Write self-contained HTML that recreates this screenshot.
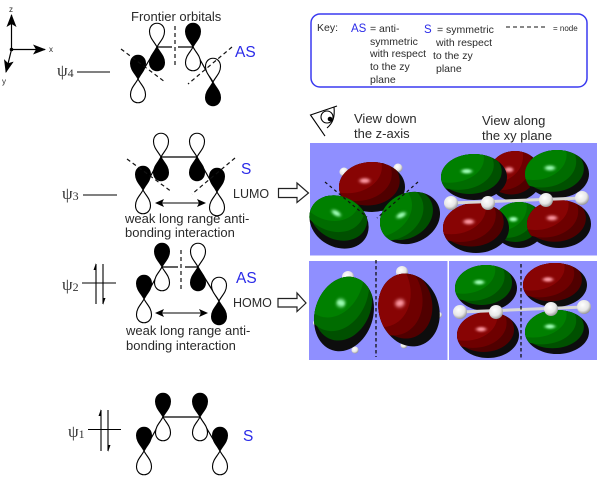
<!DOCTYPE html>
<html>
<head>
<meta charset="utf-8">
<style>
html,body{margin:0;padding:0;background:#fff}
svg{display:block;filter:blur(0.35px)}
text{font-family:"Liberation Sans",sans-serif;fill:#2a2a2a}
.p{font-family:"Liberation Serif",serif;font-size:17px;fill:#333}
.b{fill:#2a2ae8}
</style>
</head>
<body>
<svg width="600" height="479" viewBox="0 0 600 479" xmlns="http://www.w3.org/2000/svg">
<defs>
<path id="l" d="M0,0C-2.500,-5 -7.500,-9 -7.500,-15.500C-7.500,-26.500 7.500,-26.500 7.500,-15.500C7.500,-9 2.500,-5 0,0Z"/>
<g id="o1">
<use href="#l" fill="#000" stroke="#000" stroke-width="1"/>
<use href="#l" transform="scale(1,-1)" fill="#fff" stroke="#000" stroke-width="1.1"/>
</g>
<g id="o2">
<use href="#l" fill="#fff" stroke="#000" stroke-width="1.1"/>
<use href="#l" transform="scale(1,-1)" fill="#000" stroke="#000" stroke-width="1"/>
</g>
<clipPath id="u"><circle r="1"/></clipPath>
<filter id="hb" x="-100%" y="-100%" width="300%" height="300%"><feGaussianBlur stdDeviation="0.05"/></filter>
<g id="gr">
<circle r="1" fill="#0d0d0d"/>
<g clip-path="url(#u)">
<circle cx="-.14" cy="-.24" r=".98" fill="#005000"/>
<circle cx="-.48" cy="-.52" r="1.08" fill="#006c00"/>
<circle cx="-.75" cy="-.8" r="1.05" fill="#008000"/>
<ellipse cx="-.22" cy="-.25" rx=".16" ry=".1" fill="#a0ffb8" filter="url(#hb)"/>
</g>
</g>
<g id="rd">
<circle r="1" fill="#0d0d0d"/>
<g clip-path="url(#u)">
<circle cx="-.14" cy="-.24" r=".98" fill="#500000"/>
<circle cx="-.48" cy="-.52" r="1.08" fill="#6e0000"/>
<circle cx="-.75" cy="-.8" r="1.05" fill="#880404"/>
<ellipse cx="-.22" cy="-.25" rx=".16" ry=".1" fill="#ff9aa4" filter="url(#hb)"/>
</g>
</g>
<radialGradient id="at" cx=".4" cy=".35" r=".7"><stop offset="0" stop-color="#fff"/><stop offset=".6" stop-color="#e6e6e6"/><stop offset="1" stop-color="#8a8a8a"/></radialGradient>
<marker id="ah" markerWidth="9" markerHeight="8" refX="8" refY="4" orient="auto-start-reverse" markerUnits="userSpaceOnUse"><path d="M0,0L9,4L0,8L2,4Z" fill="#000"/></marker>
<marker id="ax" markerWidth="13" markerHeight="10" refX="12" refY="5" orient="auto-start-reverse" markerUnits="userSpaceOnUse"><path d="M0,0L13,5L0,10L3,5Z" fill="#000"/></marker>
</defs>

<!-- axes -->
<g stroke="#000" stroke-width="1.2" fill="none">
<line x1="11.5" y1="49.5" x2="11.5" y2="15" marker-end="url(#ax)"/>
<line x1="11.5" y1="49.5" x2="45" y2="49.5" marker-end="url(#ax)"/>
<line x1="11.5" y1="49.5" x2="6" y2="72" marker-end="url(#ax)"/>
</g>
<circle cx="11.5" cy="49.5" r="1.8" fill="#000"/>
<text x="9" y="12" font-size="8">z</text>
<text x="49" y="52" font-size="8">x</text>
<text x="2" y="84" font-size="8">y</text>

<text x="131" y="21" font-size="13">Frontier orbitals</text>

<!-- psi4 -->
<text x="57" y="76" class="p">ψ<tspan font-size="12" dy="1">4</tspan></text>
<line x1="77" y1="72" x2="110" y2="72" stroke="#000" stroke-width="1.1"/>
<path d="M138,79L157,47L172,47M178,47L193,47L213,83" fill="none" stroke="#000" stroke-width="1.2"/>
<use href="#o1" x="138" y="79"/>
<use href="#o2" x="157" y="47"/>
<use href="#o1" x="193" y="47"/>
<use href="#o2" x="213" y="82"/>
<g stroke="#111" stroke-width="1.2" stroke-dasharray="4 3" fill="none">
<line x1="175" y1="26" x2="175" y2="67"/>
<line x1="121" y1="49" x2="165" y2="82"/>
<line x1="232" y1="47" x2="188" y2="84"/>
</g>
<text x="235" y="57" font-size="15.5" class="b">AS</text>

<!-- psi3 -->
<text x="62" y="199" class="p">ψ<tspan font-size="12" dy="1">3</tspan></text>
<line x1="83" y1="195" x2="117" y2="195" stroke="#000" stroke-width="1.1"/>
<path d="M143,190L161,157L197,157L217,192" fill="none" stroke="#000" stroke-width="1.2"/>
<use href="#o1" x="143" y="190"/>
<use href="#o2" x="161" y="157"/>
<use href="#o2" x="197" y="157"/>
<use href="#o1" x="217" y="192"/>
<g stroke="#111" stroke-width="1.2" stroke-dasharray="4 3" fill="none">
<line x1="127" y1="159" x2="172" y2="192"/>
<line x1="235" y1="158" x2="192" y2="194"/>
</g>
<text x="241" y="174" font-size="15.5" class="b">S</text>
<text x="233" y="198" font-size="12.5">LUMO</text>
<path d="M278.500,188.500H297V183L308.500,193L297,202.500V197.500H278.500Z" fill="#fff" stroke="#222" stroke-width="1.2"/>
<line x1="156" y1="203" x2="205" y2="203" stroke="#000" stroke-width="1.1" marker-start="url(#ah)" marker-end="url(#ah)"/>
<text x="125" y="223" font-size="13">weak long range anti-</text>
<text x="125" y="237" font-size="13">bonding interaction</text>

<!-- psi2 -->
<text x="62" y="290" class="p">ψ<tspan font-size="12" dy="1">2</tspan></text>
<g stroke="#000" stroke-width="1.1" fill="none">
<line x1="82" y1="283" x2="116" y2="283"/>
<line x1="96" y1="304" x2="96" y2="264"/>
<line x1="103" y1="264" x2="103" y2="304"/>
</g>
<path d="M96,263L93.500,270H96Z M103,305L105.500,298H103Z" fill="#000"/>
<path d="M144,299L162,267L178,267M185,267L198,267L219,301" fill="none" stroke="#000" stroke-width="1.2"/>
<use href="#o1" x="144" y="299"/>
<use href="#o1" x="162" y="267"/>
<use href="#o2" x="198" y="267"/>
<use href="#o2" x="219" y="301"/>
<line x1="181" y1="250" x2="181" y2="291" stroke="#111" stroke-width="1.2" stroke-dasharray="4 3"/>
<text x="236" y="283" font-size="15.5" class="b">AS</text>
<text x="233" y="307" font-size="12.5">HOMO</text>
<path d="M278,298.500H297V293L306,303L297,311.500V307H278Z" fill="#fff" stroke="#222" stroke-width="1.2"/>
<line x1="156" y1="313" x2="207" y2="313" stroke="#000" stroke-width="1.1" marker-start="url(#ah)" marker-end="url(#ah)"/>
<text x="126" y="335" font-size="13">weak long range anti-</text>
<text x="126" y="350" font-size="13">bonding interaction</text>

<!-- psi1 -->
<text x="68" y="437" class="p">ψ<tspan font-size="12" dy="1">1</tspan></text>
<g stroke="#000" stroke-width="1.1" fill="none">
<line x1="88" y1="429.500" x2="121" y2="429.500"/>
<line x1="101" y1="451" x2="101" y2="410"/>
<line x1="108" y1="410" x2="108" y2="451"/>
</g>
<path d="M101,409L98.500,416H101Z M108,452L110.500,445H108Z" fill="#000"/>
<path d="M144,451L163,417L200,417L220,451" fill="none" stroke="#000" stroke-width="1.2"/>
<use href="#o1" x="144" y="451"/>
<use href="#o1" x="163" y="417"/>
<use href="#o1" x="200" y="417"/>
<use href="#o1" x="220" y="451"/>
<text x="243" y="441" font-size="15.5" class="b">S</text>

<!-- key -->
<rect x="311" y="14" width="276" height="73" rx="9" fill="#fff" stroke="#3a3af0" stroke-width="1.5"/>
<g font-size="10.500">
<text x="317" y="31">Key:</text>
<text x="351" y="32" font-size="11.500" class="b">AS</text>
<text x="370" y="32">= anti-</text>
<text x="370" y="45">symmetric</text>
<text x="370" y="57">with respect</text>
<text x="370" y="70">to the zy</text>
<text x="370" y="83">plane</text>
<text x="424" y="33" font-size="11.500" class="b">S</text>
<text x="437" y="33">= symmetric</text>
<text x="436" y="46">with respect</text>
<text x="433" y="59">to the zy</text>
<text x="436" y="72">plane</text>
</g>
<line x1="506" y1="27" x2="546" y2="27" stroke="#111" stroke-width="1.1" stroke-dasharray="4 3"/>
<text x="553" y="31" font-size="8">= node</text>

<!-- eye -->
<path d="M337,106L310.500,115L325,136" fill="none" stroke="#000" stroke-width="1.1"/>
<path d="M334,107C335,117 333,123 327,128" fill="none" stroke="#000" stroke-width="1.1"/>
<circle cx="327" cy="117" r="6" fill="#fff" stroke="#000" stroke-width="1.1"/>
<circle cx="330" cy="119" r="2.300" fill="#000"/>
<text x="354" y="123" font-size="13">View down</text>
<text x="354" y="138" font-size="13">the z-axis</text>
<text x="482" y="125" font-size="13">View along</text>
<text x="482" y="140" font-size="13">the xy plane</text>

<!-- panels -->
<rect x="310" y="143" width="287" height="112.500" fill="#8f8fff"/>
<rect x="309" y="261" width="138.500" height="99" fill="#8f8fff"/>
<rect x="449" y="261" width="148" height="99" fill="#8f8fff"/>

<!-- top-left orbitals -->
<circle cx="344" cy="172" r="4.500" fill="url(#at)"/>
<circle cx="398" cy="168" r="4.500" fill="url(#at)"/>
<use href="#rd" transform="translate(372,187) scale(33,25)"/>
<use href="#gr" transform="translate(339,222) rotate(30) scale(31,25)"/>
<use href="#gr" transform="translate(410,218) rotate(-25) scale(31,25)"/>
<g stroke="#111" stroke-width="1.200" stroke-dasharray="3 3" fill="none">
<line x1="325" y1="182" x2="367" y2="217"/>
<line x1="418" y1="182" x2="377" y2="218"/>
</g>

<!-- top-right orbitals -->
<use href="#rd" transform="translate(515,176) scale(27,25)"/>
<use href="#gr" transform="translate(519,225) scale(26,23)"/>
<use href="#gr" transform="translate(474,177) scale(33,23)"/>
<use href="#gr" transform="translate(557,174) scale(32,24)"/>
<use href="#rd" transform="translate(476,228) scale(33,25)"/>
<use href="#rd" transform="translate(559,224) scale(32,24)"/>
<line x1="451" y1="203" x2="582" y2="198" stroke="#d8d8d8" stroke-width="3"/>
<g fill="url(#at)"><circle cx="451" cy="203" r="7"/><circle cx="488" cy="203" r="7"/><circle cx="546" cy="200" r="7"/><circle cx="582" cy="198" r="7"/></g>

<!-- bottom-left orbitals -->
<circle cx="348" cy="277" r="6" fill="url(#at)"/>
<circle cx="402" cy="272" r="6" fill="url(#at)"/>
<circle cx="316" cy="323" r="3" fill="url(#at)"/>
<circle cx="355" cy="350" r="3.500" fill="url(#at)"/>
<circle cx="404" cy="345" r="3.500" fill="url(#at)"/>
<circle cx="439" cy="315" r="3" fill="url(#at)"/>
<use href="#gr" transform="translate(344,314) rotate(18) scale(29,38)"/>
<use href="#rd" transform="translate(409,310) rotate(-18) scale(30,37)"/>
<line x1="376" y1="260" x2="376" y2="357" stroke="#111" stroke-width="1.300" stroke-dasharray="3.500 2.500"/>

<!-- bottom-right orbitals -->
<use href="#gr" transform="translate(486,288) scale(31,23)"/>
<use href="#rd" transform="translate(555,285) scale(32,22)"/>
<use href="#rd" transform="translate(488,335) scale(31,23)"/>
<use href="#gr" transform="translate(557,332) scale(32,22)"/>
<line x1="460" y1="312" x2="584" y2="307" stroke="#d8d8d8" stroke-width="3"/>
<g fill="url(#at)"><circle cx="460" cy="312" r="7"/><circle cx="496" cy="312" r="7"/><circle cx="551" cy="309" r="7"/><circle cx="584" cy="307" r="7"/></g>
<line x1="521" y1="264" x2="521" y2="360" stroke="#111" stroke-width="1.300" stroke-dasharray="3.500 2.500"/>
</svg>
</body>
</html>
